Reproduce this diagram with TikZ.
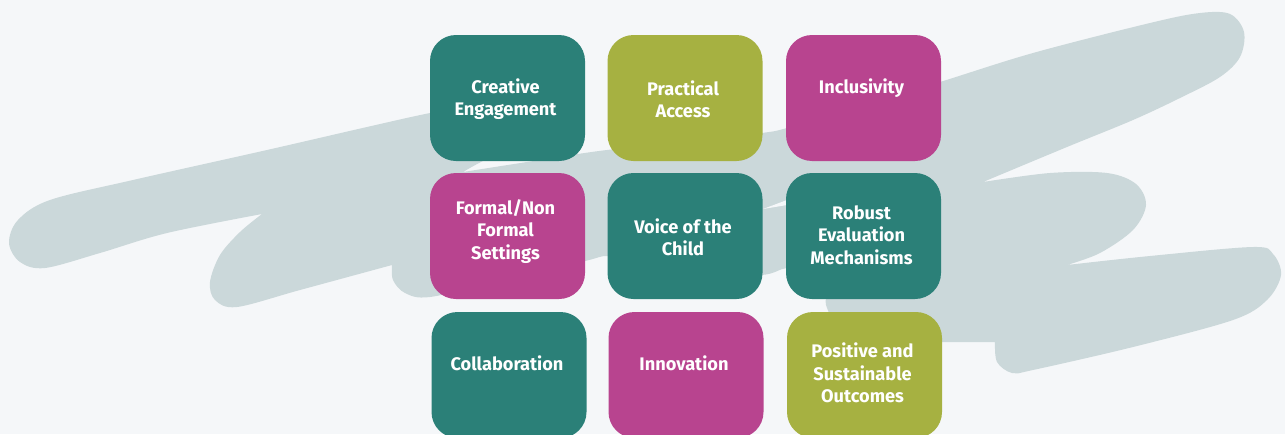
\documentclass[tikz,border=0pt]{standalone}
\usepackage{fontspec}
\setmainfont{Fira Sans}
\definecolor{paper}{HTML}{F5F7F9}
\definecolor{smudge}{HTML}{CBD8DA}
\definecolor{tileteal}{HTML}{2B8078}
\definecolor{tileolive}{HTML}{A6B141}
\definecolor{tileplum}{HTML}{B8448F}
\begin{document}
\begin{tikzpicture}[x=1pt, y=-1pt, line join=round,
        tile/.style={fill=#1, rounded corners=26pt, minimum width=155pt, minimum height=126pt, inner sep=0pt},
        caption/.style={text=white, align=center, inner sep=0pt, font=\bfseries\fontsize{18.2}{22.3}\selectfont}]
    \useasboundingbox (0,0) rectangle (1285,434);
    \clip (0,0) rectangle (1285,434);
    \fill[paper] (0,0) rectangle (1285,434);
    % scribbled brush strokes behind the grid
    \fill[smudge] plot[smooth, tension=.55] coordinates {(262,214) (167,233) (100,253) (45,268) (20,262) (9,243) (18,220) (50,200) (133,180) (267,150) (367,127) (430,113) (500,100) (545,112) (530,140) (485,160) (463,172)}
        -- plot[smooth, tension=.55] coordinates {(463,172) (540,160) (607,150) (700,141) (762,133) (787,128) (860,106) (940,82) (1033,53) (1150,23) (1200,13) (1230,14) (1244,32) (1240,57) (1220,77) (1180,98) (1133,120) (1067,147) (983,182)}
        -- plot[smooth, tension=.55] coordinates {(983,182) (1050,173) (1107,173) (1136,184) (1146,205) (1133,230) (1100,253) (1067,265)}
        -- plot[smooth, tension=.55] coordinates {(1067,265) (1150,256) (1253,247) (1273,254) (1281,275) (1267,300) (1233,320) (1133,347) (1033,370) (1012,373) (997,362) (995,342)}
        -- plot[smooth, tension=.55] coordinates {(942,342) (870,336) (838,325) (826,305) (826,290) (810,272) (787,268) (762,275) (700,275) (640,260) (607,256) (585,261) (500,281) (430,297) (405,293) (393,280) (392,265)}
        -- plot[smooth, tension=.55] coordinates {(392,265) (300,290) (237,307) (215,300) (210,282) (220,255) (240,232) (262,214)}
        -- cycle;
    \fill[paper] (763,209) -- (787,200) -- (787,205) -- cycle;
    \foreach \name/\cx/\cy/\clr/\ty/\txt in {
        creative/507.5/98/tileteal/99/{Creative\\Engagement},
        practical/685/98/tileolive/99/{Practical\\Access},
        inclusivity/863.5/98/tileplum/88/{Inclusivity},
        settings/507.5/236/tileplum/231.5/{Formal/Non\\Formal\\Settings},
        voice/685/236/tileteal/237/{Voice of the\\Child},
        evaluation/863.5/236/tileteal/235/{Robust\\Evaluation\\Mechanisms},
        collaboration/509/375/tileteal/363/{Collaboration},
        innovation/686/375/tileplum/363/{Innovation},
        outcomes/864.5/375/tileolive/373/{Positive and\\Sustainable\\Outcomes}}{
        \node[tile=\clr] (\name) at (\cx,\cy) {};
        \node[caption] (\name-txt) at (\cx-2,\ty) {\txt};
    }
\end{tikzpicture}
\end{document}
